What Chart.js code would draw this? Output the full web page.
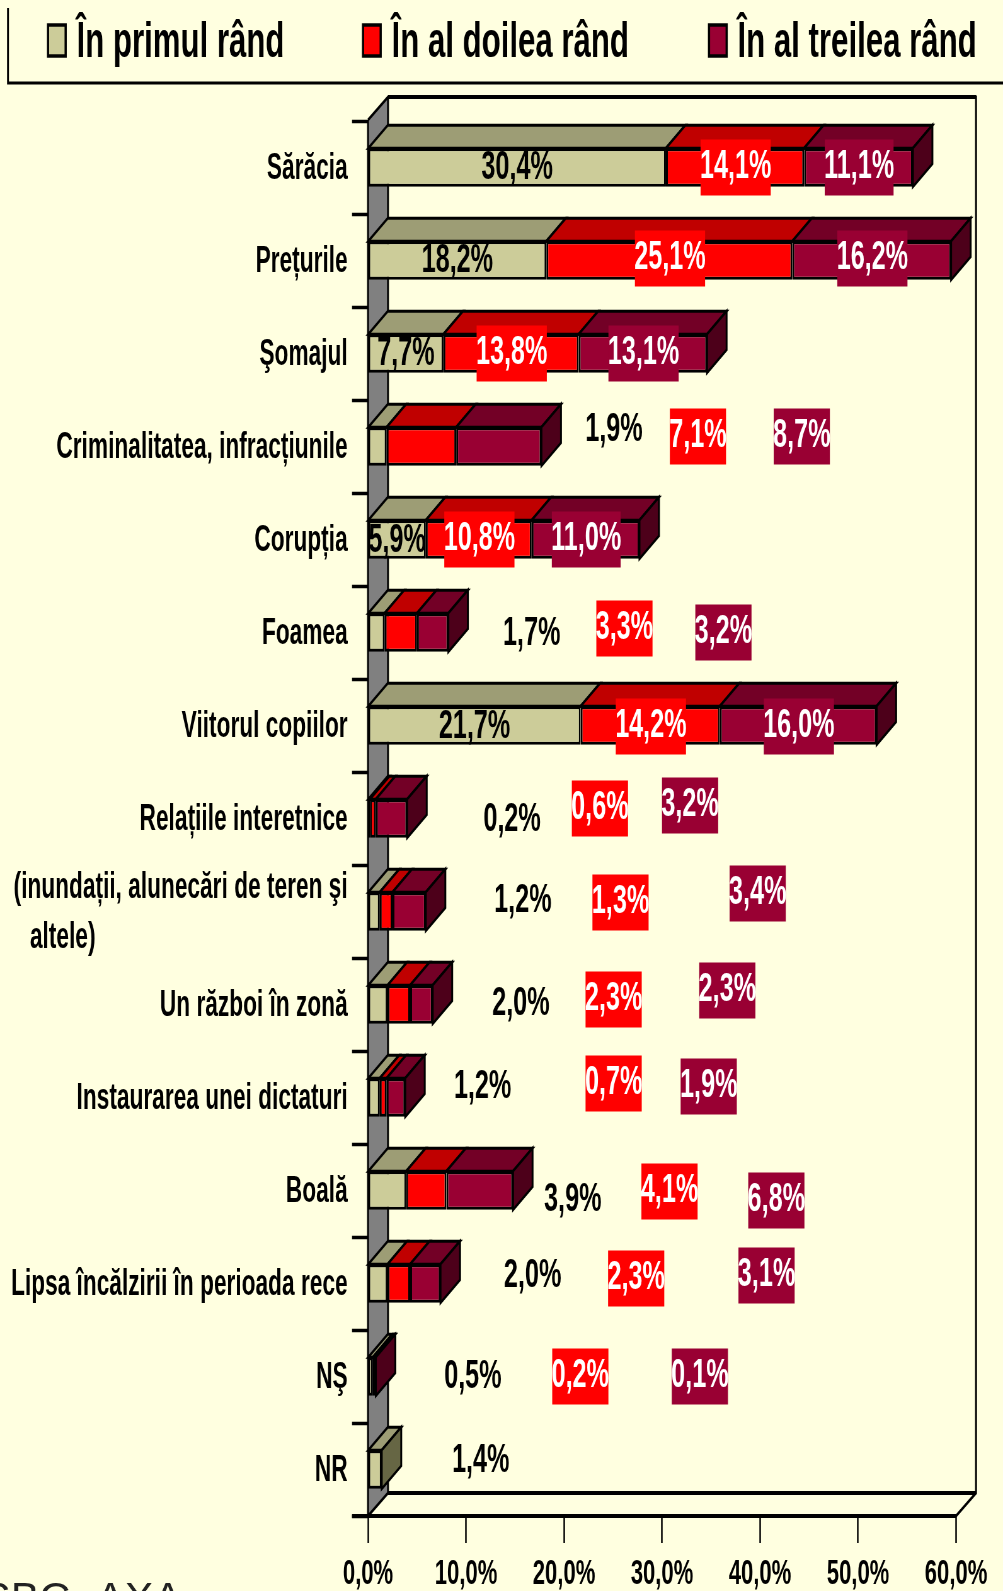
<!DOCTYPE html>
<html lang="ro">
<head>
<meta charset="utf-8">
<title>Chart</title>
<script src="https://cdn.jsdelivr.net/npm/chart.js@4"></script>
<style>
html,body{margin:0;padding:0;background:#FFFFE0;overflow:hidden;width:1003px;height:1591px}
#wrap{width:1592px;height:1591px;transform:scaleX(0.63003);transform-origin:0 0}
canvas{display:block}
</style>
</head>
<body>
<div id="wrap"><canvas id="c" width="1592" height="1591"></canvas></div>
<script>
const categories = ["Sărăcia","Prețurile","Şomajul","Criminalitatea, infracțiunile","Corupția","Foamea","Viitorul copiilor","Relațiile interetnice",["(inundații, alunecări de teren şi","altele)"],"Un război în zonă","Instaurarea unei dictaturi","Boală","Lipsa încălzirii în perioada rece","NŞ","NR"];
const seriesNames = ["În primul rând","În al doilea rând","În al treilea rând"];
const primulRand = [30.4,18.2,7.7,1.9,5.9,1.7,21.7,0.2,1.2,2.0,1.2,3.9,2.0,0.5,1.4];
const doileaRand = [14.1,25.1,13.8,7.1,10.8,3.3,14.2,0.6,1.3,2.3,0.7,4.1,2.3,0.2,0];
const treileaRand = [11.1,16.2,13.1,8.7,11.0,3.2,16.0,3.2,3.4,2.3,1.9,6.8,3.1,0.1,0];
const axisTicks = [0,10,20,30,40,50,60];

// hand-placed data label positions of the original (x in axis %, null = centred on the segment; y offset in px)
const labelAxisX = [
  [null,null,null,25.1,null,16.7,null,14.7,15.8,15.6,11.7,20.9,16.8,10.7,11.5],
  [null,null,null,33.6,null,26.1,null,23.6,25.7,25.0,25.0,30.7,27.3,21.6,null],
  [null,null,null,44.2,null,36.2,null,32.8,39.7,36.6,34.7,41.6,40.6,33.8,null]
];
const labelOffsetY = [
  [-3,-3,-3,-20,-2,-2,-2,-2,-14,-4,-14,6,-11,-3,-12],
  [0,-2,0,-10,0,-4,1,-10,-9,-5,-14,1,-5,0,0],
  [0,-2,0,-10,0,0,1,-13,-18,-14,-11,10,-8,0,0]
];

const FRONT = ["#CCCC99","#FF0000","#990033"];
const TOP   = ["#9D9D75","#C00000","#730026"];
const SIDE  = ["#666644","#800000","#4D001A"];
const LABEL_TEXT = ["#000000","#FFFFFF","#FFFFFF"];
const BG = "#FFFFE0";
const SQ = 1003/1592;           // horizontal squeeze applied by the wrapper
const X = px => px/SQ;          // final pixel -> canvas pixel
const WALL_DX = X(20), WALL_DY = 23, BAR_DX = X(19.5), BAR_DY = 23;
const FAMILY = '"Liberation Sans", Arial, sans-serif';
const fmt = v => v.toFixed(1).replace('.',',') + '%';

function poly(ctx, pts, fill, lw){
  ctx.beginPath();
  pts.forEach((p,i)=> i ? ctx.lineTo(p[0],p[1]) : ctx.moveTo(p[0],p[1]));
  ctx.closePath();
  if(fill){ctx.fillStyle=fill;ctx.fill();}
  if(lw){ctx.lineWidth=lw;ctx.strokeStyle='#000';ctx.stroke();}
}

const scene = {
  id:'scene',
  beforeDatasetsDraw(chart){
    const {ctx, scales:{x,y}} = chart;
    const L=x.getPixelForValue(0), R=x.getPixelForValue(60), T=y.top, B=y.bottom;
    const WT=97;
    ctx.save();
    ctx.lineJoin='miter';
    // floor
    poly(ctx,[[L,B],[L+WALL_DX,B-WALL_DY],[R+WALL_DX,B-WALL_DY],[R,B]],BG,0);
    // left wall
    poly(ctx,[[L,B],[L+WALL_DX,B-WALL_DY],[L+WALL_DX,WT],[L,WT+WALL_DY]],'#808080',0);
    ctx.strokeStyle='#000';
    ctx.lineWidth=3;
    ctx.beginPath();
    ctx.moveTo(L,WT+WALL_DY);ctx.lineTo(L+WALL_DX,WT);
    ctx.lineTo(R+WALL_DX,WT);ctx.lineTo(R+WALL_DX,B-WALL_DY);
    ctx.lineTo(R,B);ctx.lineTo(L,B);ctx.lineTo(L,WT+WALL_DY);
    ctx.moveTo(L+WALL_DX,WT);ctx.lineTo(L+WALL_DX,B-WALL_DY);ctx.lineTo(L,B);
    ctx.stroke();
    ctx.lineWidth=4;
    ctx.beginPath();
    ctx.moveTo(L+WALL_DX,WT);ctx.lineTo(R+WALL_DX,WT);
    ctx.moveTo(L+WALL_DX,B-WALL_DY);ctx.lineTo(R+WALL_DX,B-WALL_DY);
    ctx.moveTo(L-X(16),B);ctx.lineTo(R,B);
    ctx.stroke();
    // bar top and side faces
    categories.forEach((_,r)=>{
      let last=-1;
      chart.data.datasets.forEach((ds,s)=>{
        if(!ds.data[r]) return;
        last=s;
        const b=chart.getDatasetMeta(s).data[r], top=b.y-b.height/2;
        poly(ctx,[[b.base,top],[b.base+BAR_DX,top-BAR_DY],[b.x+BAR_DX,top-BAR_DY],[b.x,top]],TOP[s],3);
      });
      if(last>=0){
        const b=chart.getDatasetMeta(last).data[r], top=b.y-b.height/2, bot=b.y+b.height/2;
        poly(ctx,[[b.x,top],[b.x+BAR_DX,top-BAR_DY],[b.x+BAR_DX,bot-BAR_DY],[b.x,bot]],SIDE[last],3);
      }
    });
    ctx.restore();
  },
  afterDatasetsDraw(chart){
    const {ctx, scales:{x}} = chart;
    ctx.save();
    ctx.font='bold 40px '+FAMILY;
    ctx.textAlign='center';
    ctx.textBaseline='alphabetic';
    chart.data.datasets.forEach((ds,s)=>{
      ds.data.forEach((v,r)=>{
        if(!v) return;
        const b=chart.getDatasetMeta(s).data[r];
        const lx = (labelAxisX[s][r]===null ? (b.x+b.base)/2 : x.getPixelForValue(labelAxisX[s][r])) + (s>0?1:0);
        const ly = b.y + labelOffsetY[s][r];
        const t = fmt(v);
        if(s>0){
          const w=ctx.measureText(t).width-2;
          ctx.fillStyle=FRONT[s];
          ctx.fillRect(lx-w/2,ly-28,w,56);
          ctx.fillStyle=LABEL_TEXT[s];
          ctx.fillText(t,lx,ly+10);
        } else {
          ctx.fillStyle=LABEL_TEXT[s];
          ctx.fillText(t,lx,ly+14);
        }
      });
    });
    ctx.restore();
  },
  afterDraw(chart){
    const {ctx} = chart;
    ctx.save();
    // legend frame
    ctx.strokeStyle='#000';
    ctx.lineWidth=3;
    ctx.beginPath();
    ctx.moveTo(X(8),8);ctx.lineTo(X(8),83);ctx.lineTo(chart.width,83);
    ctx.stroke();
    // legend
    const sw=[48,363,709];
    ctx.font='bold 49.5px '+FAMILY;
    ctx.textAlign='left';
    ctx.textBaseline='alphabetic';
    chart.data.datasets.forEach((ds,s)=>{
      const sx=X(sw[s]);
      ctx.fillStyle=FRONT[s];
      ctx.fillRect(sx,25,28,31);
      ctx.lineWidth=3.5;
      ctx.strokeRect(sx,25,28,31);
      ctx.fillStyle='#000';
      ctx.fillText(ds.label,sx+X(18.5)+X(10),57);
    });
    ctx.restore();
    // source text, not squeezed
    ctx.save();
    ctx.scale(1/SQ,1);
    ctx.font='43px '+FAMILY;
    ctx.fillStyle='#222';
    ctx.textAlign='left';
    ctx.textBaseline='alphabetic';
    ctx.fillText('SBC',-18,1611.5);
    ctx.fillText('AXA',96,1611.5);
    ctx.restore();
  }
};

new Chart(document.getElementById('c'),{
  type:'bar',
  data:{
    labels:categories,
    datasets:[primulRand,doileaRand,treileaRand].map((d,s)=>({
      label:seriesNames[s],
      data:d,
      backgroundColor:FRONT[s],
      borderColor:'#000',
      borderWidth:3,
      borderSkipped:false,
      categoryPercentage:0.8,
      barPercentage:0.52
    }))
  },
  plugins:[scene],
  options:{
    indexAxis:'y',
    responsive:false,
    animation:false,
    devicePixelRatio:1,
    layout:{padding:{top:121,right:1592-X(956),bottom:0,left:0}},
    plugins:{legend:{display:false},tooltip:{enabled:false},title:{display:false}},
    scales:{
      x:{
        type:'linear',stacked:true,min:0,max:60,
        afterBuildTicks(s){s.ticks=axisTicks.map(v=>({value:v}));},
        afterFit(s){s.height=75;},
        border:{display:false},
        grid:{drawOnChartArea:false,drawTicks:true,tickLength:27,tickColor:'#000',tickWidth:2.5},
        ticks:{
          color:'#000',padding:10,autoSkip:false,maxRotation:0,minRotation:0,
          font:{family:FAMILY,size:35,weight:'bold'},
          callback:v=>fmt(v)
        }
      },
      y:{
        type:'category',stacked:true,
        afterFit(s){s.width=X(368);},
        border:{display:false},
        grid:{drawOnChartArea:false,drawTicks:true,tickLength:X(16),tickColor:'#000',tickWidth:3.5},
        ticks:{
          color:'#000',padding:7,autoSkip:false,labelOffset:2,
          font:{family:FAMILY,size:36,weight:'bold',lineHeight:1.39},
          callback(v){
            const l=this.getLabelForValue(v);
            return Array.isArray(categories[v]) ? [categories[v][0], categories[v][1]+' '.repeat(40)] : l;
          }
        }
      }
    }
  }
});
</script>
</body>
</html>
